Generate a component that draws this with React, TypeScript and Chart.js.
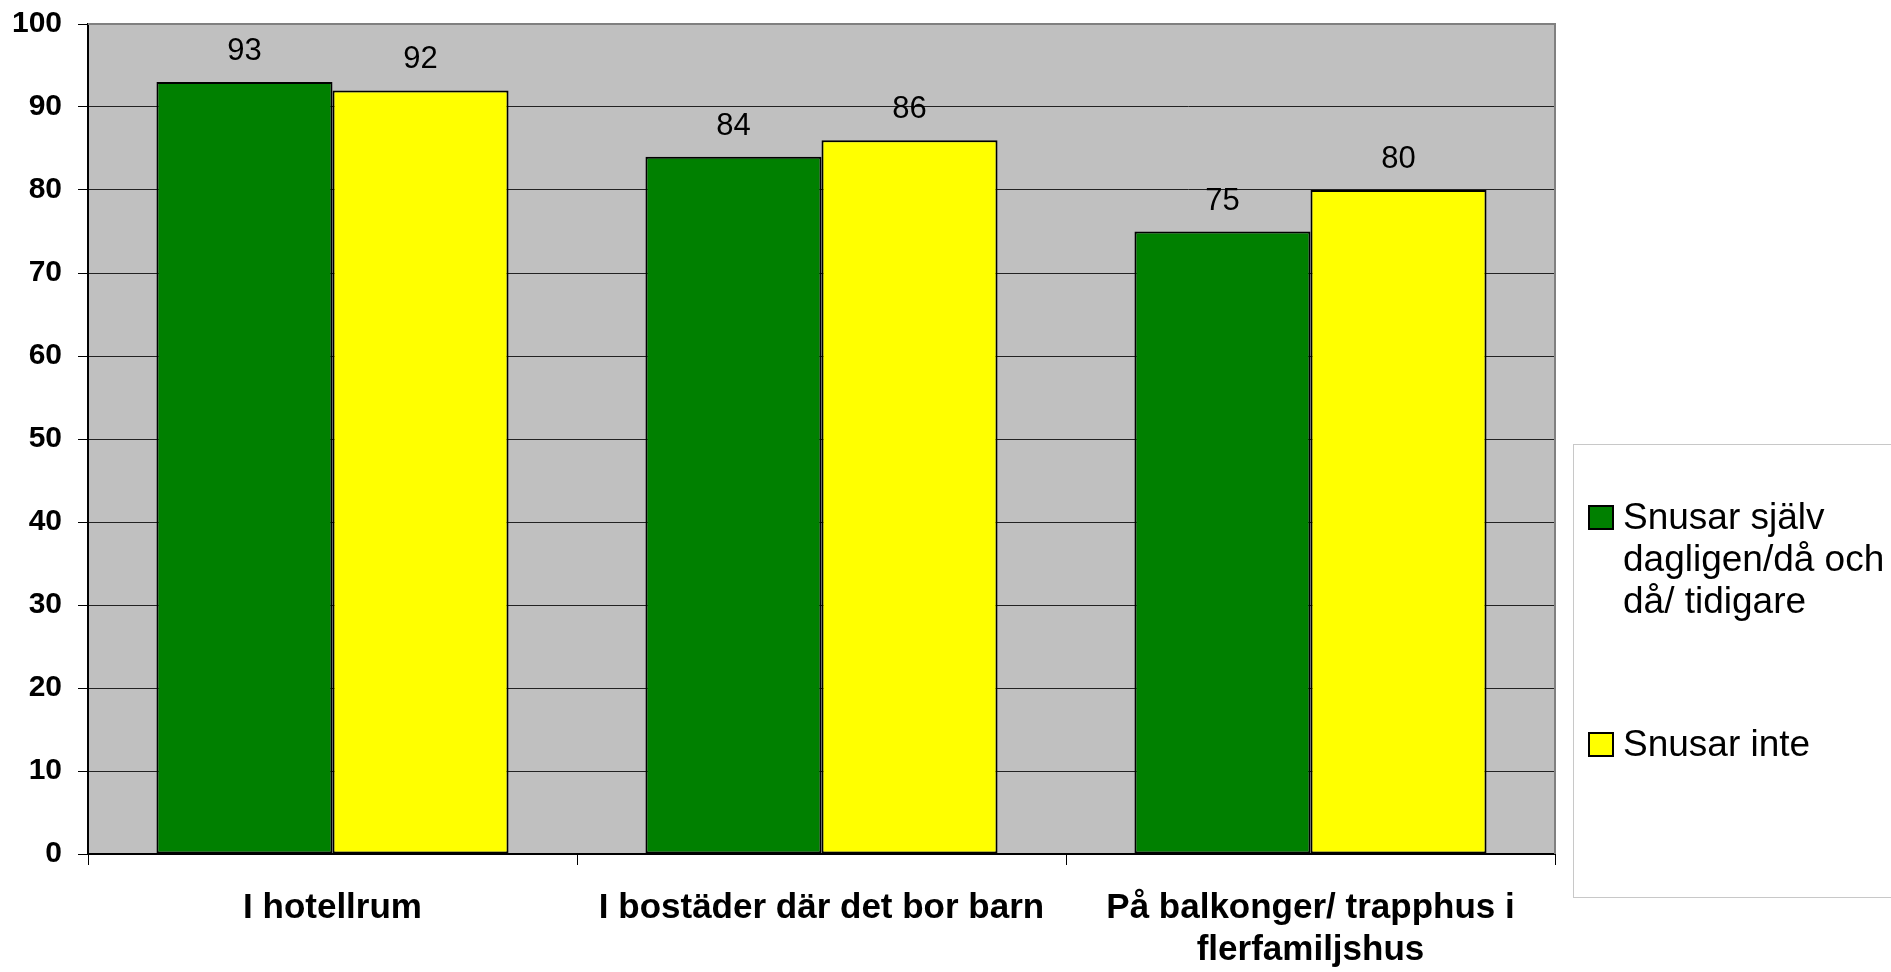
import React, { useEffect, useRef } from "react";
import { Chart, registerables } from "chart.js";

Chart.register(...registerables);

const categories: string[][] = [
  ["I hotellrum"],
  ["I bostäder där det bor barn"],
  ["På balkonger/ trapphus i", "flerfamiljshus"],
];
const seriesNames: string[][] = [
  ["Snusar själv", "dagligen/då och", "då/ tidigare"],
  ["Snusar inte"],
];
const snusarSjalv = [93, 84, 75];
const snusarInte = [92, 86, 80];
const seriesColors = ["#008000", "#FFFF00"];
const yMin = 0;
const yMax = 100;
const yStep = 10;

const FONT = "'Liberation Sans', Arial, sans-serif";

const plotBgPlugin = {
  id: "plotBg",
  beforeDraw(chart: any) {
    const { ctx, chartArea } = chart;
    ctx.save();
    ctx.fillStyle = "#C0C0C0";
    ctx.fillRect(chartArea.left, chartArea.top, chartArea.right - chartArea.left, chartArea.bottom - chartArea.top);
    ctx.restore();
  },
};

const valueLabelPlugin = {
  id: "valueLabels",
  afterDatasetsDraw(chart: any) {
    const { ctx } = chart;
    ctx.save();
    ctx.font = `31px ${FONT}`;
    ctx.fillStyle = "#000";
    ctx.textAlign = "center";
    ctx.textBaseline = "alphabetic";
    chart.data.datasets.forEach((ds: any, di: number) => {
      const meta = chart.getDatasetMeta(di);
      meta.data.forEach((bar: any, i: number) => {
        ctx.fillText(String(ds.data[i]), bar.x, bar.y - 22);
      });
    });
    ctx.restore();
  },
};

const frameLegendPlugin = {
  id: "frameLegend",
  afterDraw(chart: any) {
    const { ctx, chartArea } = chart;
    ctx.save();
    ctx.strokeStyle = "#808080";
    ctx.lineWidth = 2;
    ctx.beginPath();
    ctx.moveTo(chartArea.left, chartArea.top);
    ctx.lineTo(chartArea.right, chartArea.top);
    ctx.lineTo(chartArea.right, chartArea.bottom);
    ctx.stroke();

    const lx = chartArea.right + 18;
    const ly = 444;
    ctx.strokeStyle = "#C8C8C8";
    ctx.lineWidth = 1;
    ctx.strokeRect(lx + 0.5, ly + 0.5, 340, 453);

    const baselines = [ly + 85, ly + 312];
    ctx.font = `37px ${FONT}`;
    ctx.textAlign = "left";
    ctx.textBaseline = "alphabetic";
    seriesNames.forEach((lines, si) => {
      const b = baselines[si];
      ctx.fillStyle = seriesColors[si];
      ctx.fillRect(lx + 16, b - 23, 24, 23);
      ctx.strokeStyle = "#000";
      ctx.lineWidth = 2;
      ctx.strokeRect(lx + 16, b - 23, 24, 23);
      ctx.fillStyle = "#000";
      lines.forEach((t, li) => {
        ctx.fillText(t, lx + 50, b + li * 42);
      });
    });
    ctx.restore();
  },
};

export default function App() {
  const canvasRef = useRef<HTMLCanvasElement | null>(null);

  useEffect(() => {
    if (!canvasRef.current) return;
    const chart = new Chart(canvasRef.current, {
      type: "bar",
      data: {
        labels: categories,
        datasets: [
          {
            label: seriesNames[0].join(" "),
            data: snusarSjalv,
            backgroundColor: seriesColors[0],
            borderColor: "#000",
            borderWidth: 2,
            borderSkipped: false,
            categoryPercentage: 0.72,
            barPercentage: 1,
          },
          {
            label: seriesNames[1].join(" "),
            data: snusarInte,
            backgroundColor: seriesColors[1],
            borderColor: "#000",
            borderWidth: 2,
            borderSkipped: false,
            categoryPercentage: 0.72,
            barPercentage: 1,
          },
        ],
      },
      options: {
        animation: false,
        responsive: true,
        maintainAspectRatio: false,
        layout: { padding: { left: 0, top: 24, right: 336, bottom: 0 } },
        plugins: {
          legend: { display: false },
          tooltip: { enabled: false },
          title: { display: false },
        },
        scales: {
          x: {
            offset: true,
            grid: {
              offset: true,
              drawOnChartArea: false,
              drawTicks: true,
              tickLength: 11,
              color: "#000",
              lineWidth: 1,
            },
            border: { color: "#000", width: 2 },
            ticks: {
              color: "#000",
              font: { family: FONT, size: 35, weight: "bold", lineHeight: 42 / 35 },
              padding: 22,
              maxRotation: 0,
              minRotation: 0,
              autoSkip: false,
            },
            afterFit(scale: any) {
              scale.height = 118;
              scale.paddingLeft = 0;
              scale.paddingRight = 0;
            },
          },
          y: {
            min: yMin,
            max: yMax,
            ticks: {
              stepSize: yStep,
              color: "#000",
              font: { family: FONT, size: 30, weight: "bold" },
              padding: 16,
            },
            grid: {
              color: "#222",
              lineWidth: 1,
              tickLength: 10,
              tickColor: "#000",
            },
            border: { color: "#000", width: 2 },
            afterFit(scale: any) {
              scale.width = 88;
              scale.paddingTop = 0;
              scale.paddingBottom = 0;
            },
          },
        },
      },
      plugins: [plotBgPlugin, valueLabelPlugin, frameLegendPlugin],
    });
    return () => chart.destroy();
  }, []);

  return (
    <div style={{ position: "absolute", left: 0, top: 0, width: 1891, height: 972, background: "#fff" }}>
      <canvas ref={canvasRef} />
    </div>
  );
}
